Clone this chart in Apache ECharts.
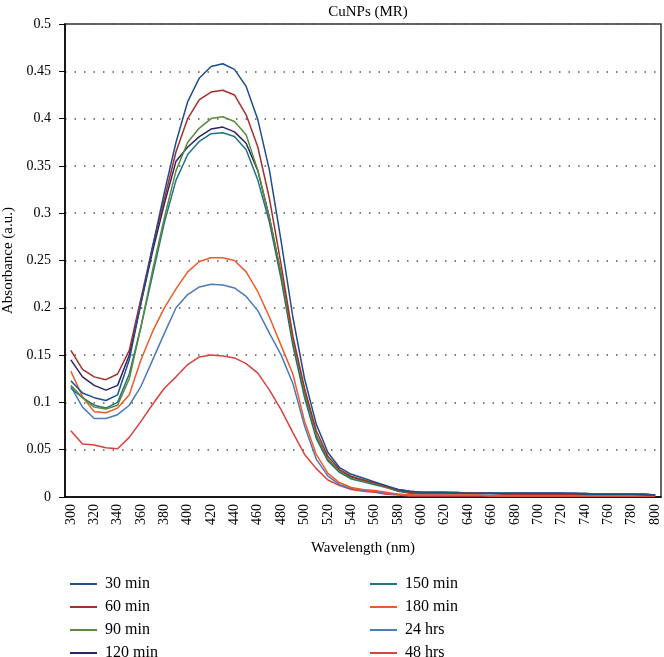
<!DOCTYPE html>
<html>
<head>
<meta charset="utf-8">
<script src="https://cdn.jsdelivr.net/npm/echarts@6/dist/echarts.min.js"></script>
<style>
  html, body { margin: 0; padding: 0; background: #fff; }
  #chart { width: 664px; height: 657px; }
</style>
</head>
<body>
<div id="chart"></div>
<script>
// wavelengths 300..800 nm, every 10 nm
var wavelengths = [];
for (var w = 300; w <= 800; w += 10) wavelengths.push(String(w));

var min30 = [0.123,0.11,0.105,0.102,0.108,0.145,0.205,0.265,0.322,0.375,
  0.418,0.443,0.455,0.458,0.452,0.434,0.399,0.345,0.27,0.19,
  0.125,0.077,0.047,0.031,0.024,0.02,0.016,0.012,0.008,0.006,
  0.005,0.005,0.005,0.004,0.004,0.004,0.004,0.004,0.004,0.004,
  0.004,0.004,0.004,0.004,0.003,0.003,0.003,0.003,0.003,0.003,0.002];
var min60 = [0.155,0.135,0.127,0.124,0.13,0.155,0.21,0.265,0.315,0.365,
  0.4,0.42,0.428,0.43,0.425,0.404,0.37,0.315,0.245,0.17,
  0.115,0.07,0.043,0.029,0.022,0.018,0.015,0.011,0.007,0.005,
  0.004,0.004,0.004,0.004,0.004,0.004,0.004,0.003,0.003,0.003,
  0.003,0.003,0.003,0.003,0.003,0.003,0.003,0.003,0.003,0.002,0.002];
var min90 = [0.118,0.105,0.095,0.093,0.097,0.125,0.18,0.24,0.295,0.345,
  0.375,0.39,0.4,0.402,0.397,0.383,0.345,0.295,0.235,0.165,
  0.11,0.065,0.04,0.027,0.02,0.017,0.014,0.01,0.007,0.005,
  0.004,0.004,0.004,0.004,0.004,0.004,0.004,0.004,0.004,0.003,
  0.003,0.003,0.003,0.003,0.003,0.003,0.003,0.003,0.003,0.003,0.002];
var min120 = [0.145,0.127,0.118,0.113,0.118,0.15,0.205,0.26,0.31,0.355,
  0.37,0.381,0.389,0.391,0.386,0.374,0.345,0.295,0.235,0.165,
  0.11,0.065,0.04,0.027,0.021,0.018,0.014,0.011,0.008,0.006,
  0.005,0.005,0.005,0.005,0.004,0.004,0.004,0.004,0.004,0.004,
  0.004,0.004,0.004,0.004,0.004,0.003,0.003,0.003,0.003,0.003,0.002];
var min150 = [0.115,0.105,0.097,0.094,0.1,0.13,0.18,0.235,0.29,0.335,
  0.362,0.376,0.384,0.385,0.381,0.367,0.335,0.29,0.23,0.16,
  0.105,0.062,0.038,0.026,0.019,0.016,0.013,0.01,0.006,0.004,
  0.004,0.004,0.004,0.004,0.004,0.004,0.004,0.004,0.004,0.004,
  0.004,0.004,0.004,0.003,0.003,0.003,0.003,0.003,0.003,0.003,0.002];
var min180 = [0.133,0.106,0.09,0.089,0.094,0.108,0.145,0.175,0.2,0.22,
  0.238,0.249,0.253,0.253,0.25,0.238,0.217,0.19,0.16,0.13,
  0.08,0.045,0.025,0.015,0.01,0.008,0.007,0.005,0.003,0.002,
  0.002,0.002,0.002,0.002,0.002,0.002,0.001,0.001,0.001,0.001,
  0.001,0.001,0.001,0.001,0.001,0.001,0.001,0.001,0.001,0.001,0.001];
var hrs24 = [0.117,0.095,0.083,0.083,0.087,0.097,0.117,0.145,0.173,0.2,
  0.214,0.222,0.225,0.224,0.221,0.212,0.197,0.173,0.15,0.12,
  0.075,0.04,0.022,0.013,0.009,0.007,0.006,0.004,0.003,0.002,
  0.002,0.002,0.002,0.002,0.002,0.002,0.002,0.002,0.002,0.002,
  0.002,0.002,0.002,0.002,0.002,0.002,0.002,0.002,0.002,0.002,0.002];
var hrs48 = [0.07,0.056,0.055,0.052,0.051,0.063,0.08,0.098,0.115,0.127,
  0.14,0.148,0.15,0.149,0.147,0.141,0.131,0.113,0.092,0.068,
  0.045,0.03,0.018,0.012,0.008,0.006,0.005,0.003,0.002,0.001,
  0.001,0.001,0.001,0.001,0.001,0.001,0.001,0.001,0.001,0.001,
  0.001,0.001,0.001,0.001,0.001,0.001,0.001,0.001,0.001,0.001,0.001];

var seriesNames = ["30 min", "60 min", "90 min", "120 min", "150 min", "180 min", "24 hrs", "48 hrs"];
var seriesData = [min30, min60, min90, min120, min150, min180, hrs24, hrs48];
var colors = ["#1f4e8c", "#a3302e", "#5b8a3a", "#2e2463", "#1c7485", "#f05a28", "#4a7bbd", "#d9413f"];

var font = "Liberation Serif";

var myChart = echarts.init(document.getElementById("chart"));

var series = seriesNames.map(function (name, i) {
  return {
    name: name,
    type: "line",
    data: seriesData[i],
    symbol: "none",
    lineStyle: { width: 1.5, color: colors[i] },
    itemStyle: { color: colors[i] },
    z: 10 - i
  };
});

function legendCol(names, left) {
  return {
    data: names,
    orient: "vertical",
    left: left, top: 571, height: 100,
    icon: "rect",
    itemWidth: 27, itemHeight: 2, itemGap: 7,
    textStyle: { fontFamily: font, fontSize: 16, color: "#000", padding: [0, 0, 0, 3] }
  };
}

myChart.setOption({
  animation: false,
  title: {
    text: "CuNPs (MR)",
    left: 363,
    top: 0,
    textAlign: "center",
    textStyle: { fontFamily: font, fontSize: 15, fontWeight: "normal", color: "#000" }
  },
  legend: [legendCol(seriesNames.slice(0, 4), 65), legendCol(seriesNames.slice(4), 365)],
  grid: {
    left: 65, right: 3, top: 24, bottom: 160,
    outerBoundsMode: "none",
    show: true, borderColor: "#333", borderWidth: 1.5
  },
  xAxis: {
    type: "category",
    data: wavelengths,
    boundaryGap: true,
    name: "Wavelength (nm)",
    nameLocation: "middle",
    nameGap: 44,
    nameTextStyle: { fontFamily: font, fontSize: 15, color: "#000" },
    axisLine: { lineStyle: { color: "#000", width: 1.5 } },
    axisTick: { interval: 0, length: 5, lineStyle: { color: "#000" } },
    axisLabel: { interval: 1, rotate: 90, fontFamily: font, fontSize: 14, color: "#000", margin: 7 },
    splitLine: { show: false }
  },
  yAxis: {
    type: "value",
    min: 0, max: 0.5, interval: 0.05,
    name: "Absorbance (a.u.)",
    nameLocation: "middle",
    nameGap: 46,
    nameTextStyle: { fontFamily: font, fontSize: 15, color: "#000" },
    axisLine: { show: true, lineStyle: { color: "#000", width: 1.5 } },
    axisTick: { show: true, length: 6, lineStyle: { color: "#000" } },
    axisLabel: { fontFamily: font, fontSize: 14, color: "#000", margin: 14 },
    splitLine: { show: true, lineStyle: { color: "#555", width: 1.5, type: [1.5, 8] } }
  },
  series: series
});
</script>
</body>
</html>
